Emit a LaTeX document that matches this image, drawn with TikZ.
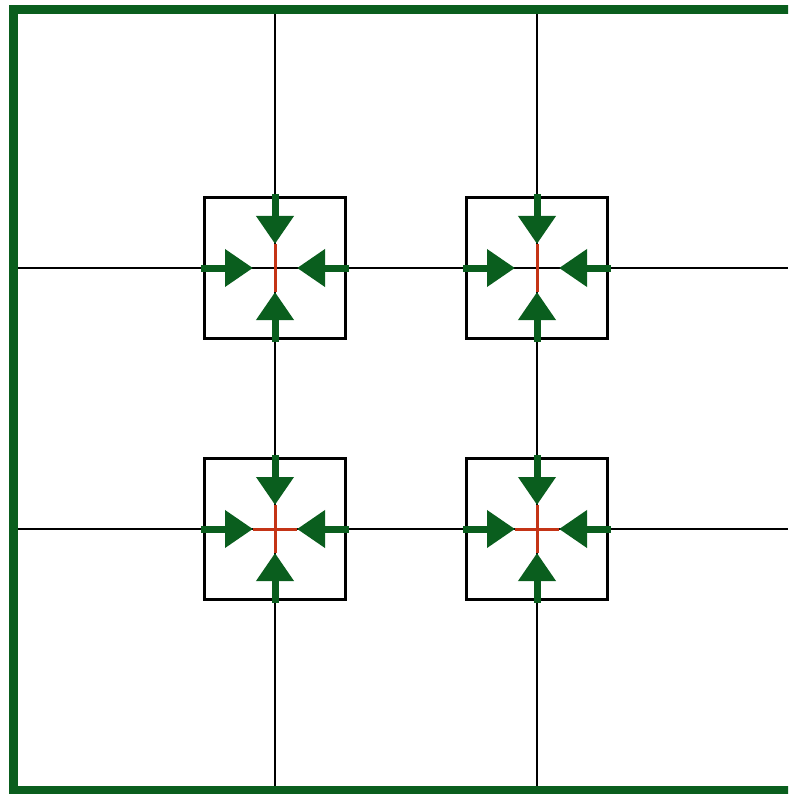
\documentclass[tikz,border=0pt]{standalone}
\usetikzlibrary{arrows.meta, calc}
\definecolor{wallgreen}{RGB}{10,94,30}
\definecolor{fluxred}{RGB}{196,52,22}
\tikzset{
  grid line/.style={
    draw=black,
    line width=2.4pt
  },
  cell box/.style={
    rectangle,
    draw=black,
    line width=2.4pt,
    minimum size=141pt,
    inner sep=0pt
  },
  inflow/.style={
    -{Triangle[length=28pt,width=36pt]},
    line width=7pt,
    color=wallgreen,
    shorten <=-2pt
  },
  flux/.style={
    draw=fluxred,
    line width=3pt
  },
  wall/.style={
    draw=wallgreen,
    line width=9pt
  }
}

\begin{document}
\begin{tikzpicture}[x=1pt, y=-1pt]
    \useasboundingbox (0,0) rectangle (788,794);
    \clip (0,0) rectangle (788,794);

    % Gitterlinien
    \foreach \x in {275,537}
      \draw[grid line] (\x,9) -- (\x,790);
    \foreach \y in {268,529}
      \draw[grid line] (13,\y) -- (788,\y);

    % Zellen an den Knoten: Kasten, Fluss (rot), Zufluss (gruen)
    \foreach \x/\i in {275/1,537/2}
      \foreach \y/\j in {268/1,529/2} {
        \coordinate (c\i\j) at (\x,\y);
        \coordinate (n\i\j) at ($(c\i\j)+(0,-24)$);
        \coordinate (s\i\j) at ($(c\i\j)+(0,24)$);
        \coordinate (w\i\j) at ($(c\i\j)+(-22,0)$);
        \coordinate (e\i\j) at ($(c\i\j)+(22,0)$);
        \draw[flux] (n\i\j) -- (s\i\j);
        \ifnum\j=2
          \draw[flux] (w\i\j) -- (e\i\j);
        \fi
        \node[cell box] (box\i\j) at (c\i\j) {};
        \draw[inflow] (box\i\j.north) -- (n\i\j);
        \draw[inflow] (box\i\j.south) -- (s\i\j);
        \draw[inflow] (box\i\j.west) -- (w\i\j);
        \draw[inflow] (box\i\j.east) -- (e\i\j);
      }

    % Rand (rechts offen)
    \draw[wall] (805,9.5) -- (13,9.5) -- (13,790) -- (805,790);

\end{tikzpicture}
\end{document}
